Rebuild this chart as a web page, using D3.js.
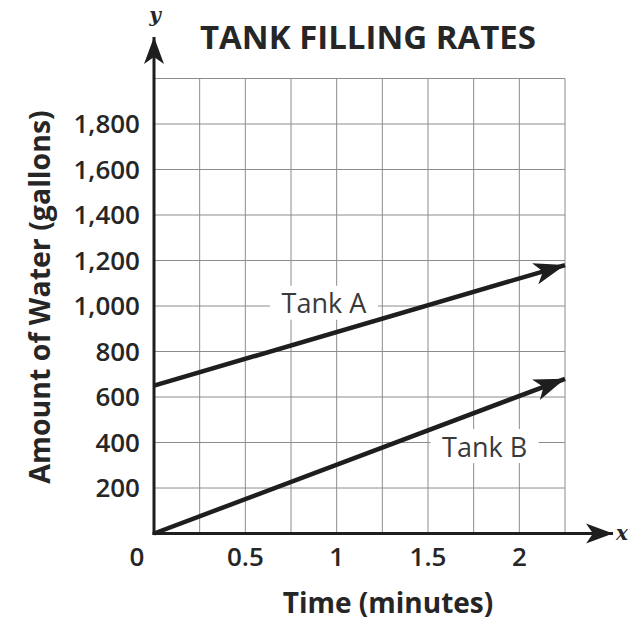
<!DOCTYPE html>
<html>
<head>
<meta charset="utf-8">
<script src="https://cdn.jsdelivr.net/npm/d3@7"></script>
<style>
  body { margin: 0; background: #fff; }
  text { font-family: "Open Sans", "Noto Sans", sans-serif; fill: #262626; }
</style>
</head>
<body>
<svg id="chart" width="630" height="620"></svg>
<script>
const xTicks = [0, 0.5, 1, 1.5, 2];
const yTicks = [200, 400, 600, 800, 1000, 1200, 1400, 1600, 1800];
const xGrid = [0.25, 0.5, 0.75, 1, 1.25, 1.5, 1.75, 2, 2.25];
const yGrid = [200, 400, 600, 800, 1000, 1200, 1400, 1600, 1800, 2000];
const tankA = [{t: 0, g: 650}, {t: 2.25, g: 1180}];
const tankB = [{t: 0, g: 0}, {t: 2.25, g: 680}];
const seriesLabels = [
    {name: "Tank A", t: 0.93, g: 1010},
    {name: "Tank B", t: 1.81, g: 380}
];

const svg = d3.select("#chart");
const width = +svg.attr("width");
const height = +svg.attr("height");

const margin = {top: 78.5, right: 65, bottom: 86.5, left: 154};

const x = d3.scaleLinear()
    .domain([0, 2.25])
    .range([margin.left, width - margin.right]);

const y = d3.scaleLinear()
    .domain([0, 2000])
    .range([height - margin.bottom, margin.top]);

const ink = "#1e1e1e";

// arrowheads
const defs = svg.append("defs");
defs.append("marker")
    .attr("id", "lineHead")
    .attr("markerUnits", "userSpaceOnUse")
    .attr("viewBox", "-32 -12 34 24")
    .attr("markerWidth", 34)
    .attr("markerHeight", 24)
    .attr("refX", 0)
    .attr("refY", 0)
    .attr("orient", "auto")
    .append("path")
    .attr("d", "M0,0 L-31,-11 L-23,0 L-31,11 Z")
    .attr("fill", ink);

defs.append("marker")
    .attr("id", "axisHead")
    .attr("markerUnits", "userSpaceOnUse")
    .attr("viewBox", "-28 -11 30 22")
    .attr("markerWidth", 30)
    .attr("markerHeight", 22)
    .attr("refX", 0)
    .attr("refY", 0)
    .attr("orient", "auto")
    .append("path")
    .attr("d", "M0,0 L-27,-10 L-20,0 L-27,10 Z")
    .attr("fill", ink);

// grid
svg.append("g")
    .selectAll("line")
    .data(xGrid)
    .join("line")
    .attr("x1", d => x(d))
    .attr("x2", d => x(d))
    .attr("y1", y(0))
    .attr("y2", y(2000))
    .attr("stroke", "#8c8c8c")
    .attr("stroke-width", 1);

svg.append("g")
    .selectAll("line")
    .data(yGrid)
    .join("line")
    .attr("x1", x(0))
    .attr("x2", x(2.25))
    .attr("y1", d => y(d))
    .attr("y2", d => y(d))
    .attr("stroke", "#8c8c8c")
    .attr("stroke-width", 1);

// series labels sit on white boxes that cut the grid
const labelG = svg.append("g")
    .selectAll("g")
    .data(seriesLabels)
    .join("g")
    .attr("transform", d => `translate(${x(d.t)},${y(d.g)})`);

labelG.append("rect")
    .attr("x", -54)
    .attr("y", -18)
    .attr("width", 108)
    .attr("height", 34)
    .attr("fill", "#fff");

labelG.append("text")
    .attr("text-anchor", "middle")
    .attr("dy", "0.35em")
    .style("font-size", "27px")
    .style("fill", "#3a3a3a")
    .text(d => d.name);

// axes
svg.append("line")
    .attr("x1", x(0))
    .attr("x2", x(0))
    .attr("y1", y(0) + 1.5)
    .attr("y2", 37)
    .attr("stroke", ink)
    .attr("stroke-width", 3)
    .attr("marker-end", "url(#axisHead)");

svg.append("line")
    .attr("x1", x(0) - 1.5)
    .attr("x2", 613)
    .attr("y1", y(0))
    .attr("y2", y(0))
    .attr("stroke", ink)
    .attr("stroke-width", 3)
    .attr("marker-end", "url(#axisHead)");

// tank lines
const line = d3.line()
    .x(d => x(d.t))
    .y(d => y(d.g));

[tankA, tankB].forEach(series => {
    svg.append("path")
        .datum(series)
        .attr("d", line)
        .attr("fill", "none")
        .attr("stroke", ink)
        .attr("stroke-width", 4.5)
        .attr("marker-end", "url(#lineHead)");
});

// tick labels
svg.append("g")
    .selectAll("text")
    .data(yTicks)
    .join("text")
    .attr("x", 140)
    .attr("y", d => y(d))
    .attr("dy", "0.36em")
    .attr("text-anchor", "end")
    .style("font-size", "26px")
    .style("font-weight", "600")
    .text(d => d3.format(",")(d));

svg.append("g")
    .selectAll("text")
    .data(xTicks)
    .join("text")
    .attr("x", d => d === 0 ? x(d) - 17 : x(d))
    .attr("y", 566)
    .attr("text-anchor", "middle")
    .style("font-size", "26px")
    .style("font-weight", "600")
    .text(d => d);

// titles
svg.append("text")
    .attr("x", 368)
    .attr("y", 49)
    .attr("text-anchor", "middle")
    .style("font-size", "33px")
    .style("font-weight", "bold")
    .text("TANK FILLING RATES");

svg.append("text")
    .attr("x", 388)
    .attr("y", 613)
    .attr("text-anchor", "middle")
    .style("font-size", "28px")
    .style("font-weight", "bold")
    .text("Time (minutes)");

svg.append("text")
    .attr("transform", `translate(50, 297) rotate(-90)`)
    .attr("text-anchor", "middle")
    .style("font-size", "28.5px")
    .style("font-weight", "bold")
    .text("Amount of Water (gallons)");

// axis letters
svg.append("text")
    .attr("x", 155)
    .attr("y", 22)
    .attr("text-anchor", "middle")
    .style("font-family", "'DejaVu Serif', serif")
    .style("font-style", "italic")
    .style("font-weight", "bold")
    .style("font-size", "20px")
    .text("y");

svg.append("text")
    .attr("x", 616)
    .attr("y", 540)
    .style("font-family", "'DejaVu Serif', serif")
    .style("font-style", "italic")
    .style("font-weight", "bold")
    .style("font-size", "20px")
    .text("x");
</script>
</body>
</html>
